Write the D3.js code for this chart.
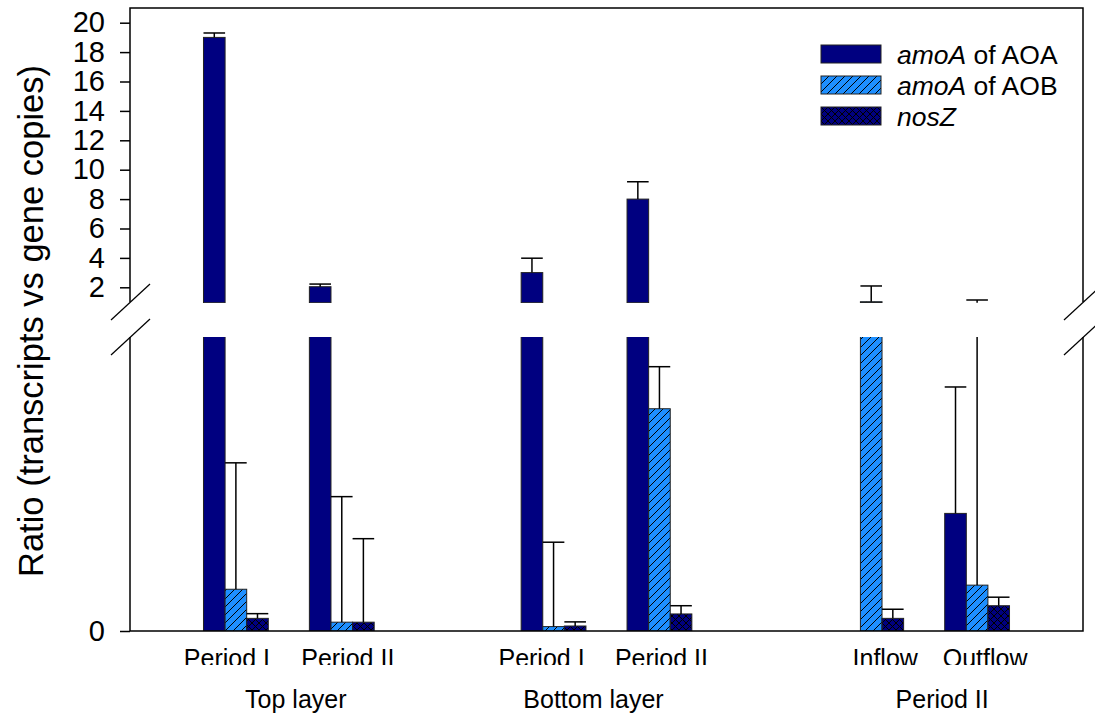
<!DOCTYPE html>
<html>
<head>
<meta charset="utf-8">
<script src="https://cdn.jsdelivr.net/npm/d3@7"></script>
<style>
  html, body { margin: 0; padding: 0; background: #fff; }
  svg { display: block; font-family: "Liberation Sans", Arial, sans-serif; }
</style>
</head>
<body>
<svg id="chart" width="1095" height="717"></svg>
<script>
// Sample categories, grouped by layer / period
const categories = ["Period I", "Period II", "Period I", "Period II", "Inflow", "Outflow"];
const groups = ["Top layer", "Bottom layer", "Period II"];
const groupOf = [0, 0, 1, 1, 2, 2];

// Transcript / gene copy ratios (mean and upper error)
const seriesNames = ["amoA of AOA", "amoA of AOB", "nosZ"];
const aoaValues = [19.0, 2.04, 3.0, 8.0, null, 0.40];
const aoaErrors = [0.3, 0.18, 0.98, 1.18, null, 0.43];
const aobValues = [0.142, 0.030, 0.015, 0.756, 1.02, 0.156];
const aobErrors = [0.43, 0.427, 0.287, 0.143, 1.07, 0.98];
const nosZValues = [0.043, 0.030, 0.017, 0.058, 0.043, 0.086];
const nosZErrors = [0.016, 0.284, 0.014, 0.028, 0.031, 0.029];

// Axis ticks for the two segments of the broken y axis
const upperTicks = [2, 4, 6, 8, 10, 12, 14, 16, 18, 20];
const lowerTicks = [0];

// Label nudges (px) for category and group labels
const catLabelNudge = [-9, 6, -12, 2, 14, 8];
const groupLabelNudge = [7, -13, 18];

const svg = d3.select("#chart");
const plotL = 130, plotR = 1083, plotT = 8, plotB = 631;
const breakLow = 337, breakHigh = 302;

// Scales
const x = d3.scaleLinear().domain([-1, 8]).range([plotL, plotR]);
const slotOf = i => i + groupOf[i];
const step = x(1) - x(0);
const barW = step * 0.204;
const xSub = d3.scaleBand().domain(seriesNames).range([-1.5 * barW, 1.5 * barW]);

const yLow = d3.scaleLinear().domain([0, 1]).range([plotB, breakLow]);
const yUp = d3.scaleLinear().domain([1, 21]).range([breakHigh, plotT]);

// Fill patterns
const defs = svg.append("defs");
const hatch = defs.append("pattern").attr("id", "hatch")
  .attr("patternUnits", "userSpaceOnUse").attr("width", 8).attr("height", 8);
hatch.append("rect").attr("width", 8).attr("height", 8).attr("fill", "#1e8fff");
hatch.append("path").attr("d", "M-2,2 L2,-2 M0,8 L8,0 M6,10 L10,6")
  .attr("stroke", "#000").attr("stroke-width", 1);

const cross = defs.append("pattern").attr("id", "cross")
  .attr("patternUnits", "userSpaceOnUse").attr("width", 7).attr("height", 7);
cross.append("rect").attr("width", 7).attr("height", 7).attr("fill", "#000080");
cross.append("path").attr("d", "M0,0 L7,7 M0,7 L7,0")
  .attr("stroke", "#000").attr("stroke-width", 1);

const fills = ["#000080", "url(#hatch)", "url(#cross)"];

defs.append("clipPath").attr("id", "clipLow")
  .append("rect").attr("x", plotL).attr("y", breakLow).attr("width", plotR - plotL).attr("height", plotB - breakLow);
defs.append("clipPath").attr("id", "clipUp")
  .append("rect").attr("x", plotL).attr("y", plotT - 6).attr("width", plotR - plotL).attr("height", breakHigh - plotT + 7);
defs.append("clipPath").attr("id", "clipCat")
  .append("rect").attr("x", 0).attr("y", 632).attr("width", 1095).attr("height", 33);

// Flatten to bar records
const allVals = [aoaValues, aobValues, nosZValues];
const allErrs = [aoaErrors, aobErrors, nosZErrors];
const bars = [];
categories.forEach((c, i) => {
  seriesNames.forEach((s, k) => {
    const v = allVals[k][i];
    if (v == null) return;
    bars.push({ i, s, k, v, e: allErrs[k][i] });
  });
});
const bx = d => x(slotOf(d.i)) + xSub(d.s);

// Lower segment
const gLow = svg.append("g").attr("clip-path", "url(#clipLow)");
gLow.selectAll("rect.bar").data(bars).join("rect").attr("class", "bar")
  .attr("x", bx).attr("width", xSub.bandwidth())
  .attr("y", d => yLow(Math.min(d.v, 1.05)))
  .attr("height", d => plotB - yLow(Math.min(d.v, 1.05)))
  .attr("fill", d => fills[d.k]).attr("stroke", "#222").attr("stroke-width", 1);
const lowErr = bars.filter(d => d.v < 1);
gLow.selectAll("line.err").data(lowErr).join("line").attr("class", "err")
  .attr("x1", d => bx(d) + barW / 2).attr("x2", d => bx(d) + barW / 2)
  .attr("y1", d => yLow(d.v)).attr("y2", d => yLow(Math.min(d.v + d.e, 1.05)))
  .attr("stroke", "#000").attr("stroke-width", 1.5);
gLow.selectAll("line.cap").data(lowErr.filter(d => d.v + d.e <= 1)).join("line").attr("class", "cap")
  .attr("x1", d => bx(d)).attr("x2", d => bx(d) + barW)
  .attr("y1", d => yLow(d.v + d.e)).attr("y2", d => yLow(d.v + d.e))
  .attr("stroke", "#000").attr("stroke-width", 1.5);

// Upper segment
const gUp = svg.append("g").attr("clip-path", "url(#clipUp)");
const upBars = bars.filter(d => d.v > 1);
gUp.selectAll("rect.bar").data(upBars).join("rect").attr("class", "bar")
  .attr("x", bx).attr("width", xSub.bandwidth())
  .attr("y", d => yUp(d.v))
  .attr("height", d => yUp(0.95) - yUp(d.v))
  .attr("fill", d => fills[d.k]).attr("stroke", "#222").attr("stroke-width", 1);
const upErr = bars.filter(d => d.v + d.e > 1);
gUp.selectAll("line.err").data(upErr).join("line").attr("class", "err")
  .attr("x1", d => bx(d) + barW / 2).attr("x2", d => bx(d) + barW / 2)
  .attr("y1", d => yUp(Math.max(d.v, 0.95))).attr("y2", d => yUp(d.v + d.e))
  .attr("stroke", "#000").attr("stroke-width", 1.5);
gUp.selectAll("line.cap").data(upErr).join("line").attr("class", "cap")
  .attr("x1", d => bx(d)).attr("x2", d => bx(d) + barW)
  .attr("y1", d => yUp(d.v + d.e)).attr("y2", d => yUp(d.v + d.e))
  .attr("stroke", "#000").attr("stroke-width", 1.5);

// Frame and axes
const axisStyle = g => {
  g.select(".domain").remove();
  g.selectAll(".tick line").attr("stroke", "#000").attr("stroke-width", 1.5);
  g.selectAll(".tick text").attr("fill", "#000").attr("font-size", 29)
    .attr("font-family", "Liberation Sans, Arial, sans-serif");
};
svg.append("g").attr("transform", `translate(${plotL},0)`)
  .call(d3.axisLeft(yUp).tickValues(upperTicks).tickSize(10).tickPadding(15).tickFormat(d3.format("d")))
  .call(axisStyle);
svg.append("g").attr("transform", `translate(${plotL},0)`)
  .call(d3.axisLeft(yLow).tickValues(lowerTicks).tickSize(10).tickPadding(15).tickFormat(d3.format("d")))
  .call(axisStyle);

const frame = svg.append("g").attr("stroke", "#000").attr("stroke-width", 1.5).attr("fill", "none");
frame.append("path").attr("d",
  `M${plotL},${breakHigh} V${plotT} H${plotR} V${breakHigh}` +
  ` M${plotL},${breakLow} V${plotB} H${plotR} V${breakLow}`);
// Axis break marks
[plotL, plotR].forEach(ax => {
  [breakHigh, breakLow].forEach(by => {
    frame.append("line")
      .attr("x1", ax - 19).attr("y1", by + 18)
      .attr("x2", ax + 20).attr("y2", by - 18)
      .attr("stroke-width", 1.2);
  });
});

// Category labels (row 1) and group labels (row 2)
svg.append("g").attr("clip-path", "url(#clipCat)")
  .selectAll("text").data(categories).join("text")
  .attr("x", (d, i) => x(slotOf(i)) + catLabelNudge[i])
  .attr("y", 667).attr("text-anchor", "middle").attr("font-size", 25).attr("fill", "#000")
  .text(d => d);

svg.append("g").selectAll("text").data(groups).join("text")
  .attr("x", (d, gi) => {
    const idx = groupOf.map((g, i) => g === gi ? i : -1).filter(i => i >= 0);
    return d3.mean(idx, i => x(slotOf(i))) + groupLabelNudge[gi];
  })
  .attr("y", 707.5).attr("text-anchor", "middle").attr("font-size", 25).attr("fill", "#000")
  .text(d => d);

// Y axis title
svg.append("text")
  .attr("transform", "translate(43,321) rotate(-90)")
  .attr("text-anchor", "middle").attr("font-size", 34.5).attr("fill", "#000")
  .text("Ratio (transcripts vs gene copies)");

// Legend
const legend = svg.append("g").attr("transform", "translate(821,45)");
const legRows = legend.selectAll("g").data(seriesNames).join("g")
  .attr("transform", (d, k) => `translate(0,${k * 31})`);
legRows.append("rect").attr("width", 60).attr("height", 18)
  .attr("fill", (d, k) => fills[k]).attr("stroke", "#222").attr("stroke-width", 1);
const legText = legRows.append("text").attr("x", 76).attr("y", 18.5)
  .attr("font-size", 26.5).attr("fill", "#000");
legText.each(function (d) {
  const t = d3.select(this);
  const m = d.match(/^(\S+)(.*)$/);
  t.append("tspan").attr("font-style", "italic").text(m[1]);
  if (m[2]) t.append("tspan").text(m[2]);
});
</script>
</body>
</html>
